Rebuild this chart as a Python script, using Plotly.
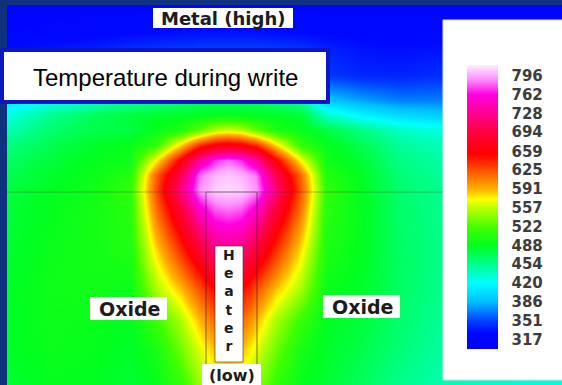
import plotly.graph_objects as go

# grid coordinates (image pixel space) at which temperatures were read
X = [7, 50, 95, 130, 155, 180, 200, 215, 228, 241, 256, 276, 301, 326, 361, 400, 440, 500, 562]
Y = [5, 30, 50, 75, 100, 115, 130, 145, 160, 175, 190, 210, 235, 260, 290, 320, 350, 385]

# temperature field (rows follow Y, columns follow X)
T_y5   = [318, 318, 318, 318, 318, 318, 318, 318, 318, 318, 318, 318, 318, 318, 318, 318, 318, 318, 318]
T_y30  = [320, 322, 325, 327, 328, 329, 330, 330, 330, 330, 330, 329, 328, 327, 326, 325, 325, 324, 324]
T_y50  = [332, 335, 340, 345, 348, 350, 352, 352, 352, 352, 352, 350, 348, 340, 334, 332, 334, 334, 334]
T_y75  = [365, 372, 380, 386, 390, 392, 395, 396, 396, 396, 395, 392, 388, 348, 341, 340, 344, 345, 345]
T_y100 = [405, 420, 435, 448, 456, 462, 468, 470, 470, 470, 468, 462, 450, 390, 378, 368, 368, 368, 368]
T_y115 = [428, 455, 472, 480, 484, 486, 488, 490, 490, 490, 488, 486, 482, 438, 415, 400, 394, 394, 394]
T_y130 = [445, 465, 476, 478, 492, 503, 530, 555, 562, 555, 530, 503, 492, 478, 458, 438, 430, 428, 428]
T_y145 = [460, 474, 486, 492, 510, 580, 640, 662, 668, 662, 640, 580, 510, 492, 475, 452, 442, 440, 440]
T_y160 = [468, 480, 490, 495, 570, 657, 735, 770, 782, 770, 735, 657, 570, 495, 482, 458, 448, 445, 445]
T_y175 = [474, 484, 494, 505, 615, 700, 785, 800, 806, 800, 785, 700, 615, 505, 487, 462, 452, 450, 450]
T_y190 = [478, 488, 496, 512, 622, 720, 792, 808, 810, 808, 792, 720, 622, 512, 488, 465, 455, 452, 452]
T_y210 = [480, 490, 498, 507, 610, 688, 752, 778, 783, 778, 752, 688, 610, 507, 490, 466, 456, 452, 452]
T_y235 = [482, 492, 498, 505, 590, 655, 712, 742, 748, 742, 712, 655, 590, 505, 490, 467, 457, 452, 452]
T_y260 = [484, 494, 498, 500, 570, 625, 672, 705, 712, 705, 672, 625, 570, 500, 488, 468, 457, 452, 452]
T_y290 = [486, 495, 496, 492, 548, 585, 625, 655, 665, 655, 625, 585, 548, 492, 485, 468, 455, 450, 450]
T_y320 = [486, 494, 492, 488, 515, 550, 590, 618, 628, 618, 590, 550, 515, 488, 480, 465, 453, 448, 448]
T_y350 = [486, 493, 490, 485, 498, 532, 565, 588, 595, 588, 565, 532, 498, 485, 476, 462, 450, 442, 442]
T_y385 = [482, 490, 488, 482, 490, 512, 545, 562, 568, 562, 545, 512, 490, 482, 470, 455, 445, 435, 430]

Z = [T_y5, T_y30, T_y50, T_y75, T_y100, T_y115, T_y130, T_y145, T_y160, T_y175,
     T_y190, T_y210, T_y235, T_y260, T_y290, T_y320, T_y350, T_y385]

# colour bar labels
TICKS = [796, 762, 728, 694, 659, 625, 591, 557, 522, 488, 454, 420, 386, 351, 317]

ZMIN, ZMAX = 300, 816
stops = [
    (300, "#0000ff"), (330, "#0008ff"), (351, "#0040ff"), (386, "#00c0ff"),
    (420, "#00ffff"), (454, "#00ff90"), (488, "#00ff20"), (520, "#40ff00"),
    (557, "#c0ff00"), (572, "#ffff00"), (591, "#ffb000"), (625, "#ff5000"),
    (655, "#ff0000"), (694, "#ff0040"), (728, "#ff0090"), (762, "#ff00e0"),
    (790, "#ff90ff"), (816, "#ffeeff"),
]
colorscale = [[(v - ZMIN) / (ZMAX - ZMIN), c] for v, c in stops]

W, H = 562, 385
L, T = 7, 5
NAVY = "#10317d"


def px(x):
    return (x - L) / (W - L)


def py(y):
    return (H - y) / (H - T)


fig = go.Figure()
fig.add_trace(go.Heatmap(
    x=X, y=Y, z=Z, zsmooth="best", zmin=ZMIN, zmax=ZMAX,
    colorscale=colorscale, hoverinfo="skip",
    colorbar=dict(
        x=px(467), xanchor="left", xpad=0, ypad=0,
        y=py(207), yanchor="middle",
        thickness=31, thicknessmode="pixels",
        len=284, lenmode="pixels",
        tickmode="array", tickvals=TICKS, ticktext=[str(t) for t in TICKS],
        ticks="outside", ticklen=11, tickcolor="rgba(0,0,0,0)",
        tickfont=dict(family="DejaVu Sans", size=15, color="#3c3c3c", weight="bold"),
        outlinewidth=0, bgcolor="rgba(0,0,0,0)",
    ),
))

shapes = []


def rect(x0, y0, x1, y1, fill="white", line="rgba(0,0,0,0)", lw=0):
    shapes.append(dict(type="rect", xref="paper", yref="paper",
                       x0=px(x0), x1=px(x1), y0=py(y0), y1=py(y1),
                       fillcolor=fill, line=dict(color=line, width=lw), layer="above"))


def seg(x0, y0, x1, y1, color, lw=1):
    shapes.append(dict(type="line", xref="paper", yref="paper",
                       x0=px(x0), x1=px(x1), y0=py(y0), y1=py(y1),
                       line=dict(color=color, width=lw), layer="above"))


# colour bar panel
rect(443, 20, 563, 380, fill="white", line="#dcdcf4", lw=1)
# interface line and heater outline
seg(7, 192, 443, 192, "rgba(60,60,30,0.35)")
seg(206, 192, 206, 386, "rgba(60,20,60,0.6)")
seg(257, 192, 257, 386, "rgba(60,20,60,0.6)")
seg(206, 192, 257, 192, "rgba(90,40,90,0.45)")
# heater label strip
rect(215, 246, 243, 362, fill="white", line="rgba(50,50,50,0.6)", lw=1)
rect(202, 364, 261, 388)
# material labels
rect(153, 8, 293, 28)
rect(90, 297, 167, 320)
rect(323, 295, 400, 318)
# title box
rect(2, 50, 328, 102, fill="white", line="#0c16c4", lw=4)

fig.update_layout(shapes=shapes)

bold = dict(family="DejaVu Sans", color="#1c1c1c", weight="bold")


def label(x, y, text, size, font=None):
    f = dict(bold if font is None else font)
    f["size"] = size
    fig.add_annotation(xref="paper", yref="paper", x=px(x), y=py(y), text=text,
                       showarrow=False, xanchor="center", yanchor="middle", font=f)


label(223, 18, "Metal (high)", 18)
label(165, 77, "Temperature during write", 24,
      dict(family="Liberation Sans, Arial", color="#000000"))
label(129, 309, "Oxide", 19)
label(362, 307, "Oxide", 19)
label(229, 300, "H<br>e<br>a<br>t<br>e<br>r", 14)
label(232, 375, "(low)", 16)

fig.update_layout(
    width=W, height=H,
    margin=dict(l=L, r=0, t=T, b=0, pad=0),
    paper_bgcolor=NAVY, plot_bgcolor="#0000ff",
    xaxis=dict(range=[L, W], visible=False, fixedrange=True),
    yaxis=dict(range=[H, T], visible=False, fixedrange=True),
    showlegend=False,
)

fig.write_html(
    "out.html",
    config={"displayModeBar": False},
    post_script="document.body.style.margin='0';document.body.style.padding='0';"
                "document.body.style.overflow='hidden';"
                "document.body.style.background='" + NAVY + "';",
)
